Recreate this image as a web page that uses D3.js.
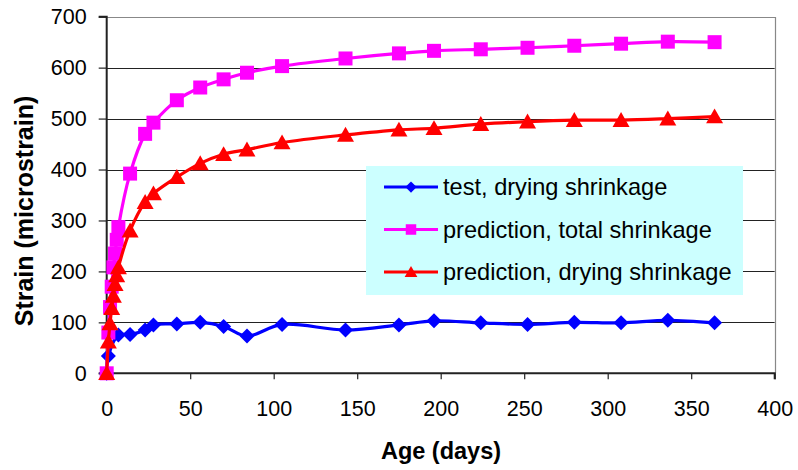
<!DOCTYPE html>
<html>
<head>
<meta charset="utf-8">
<script src="https://cdn.jsdelivr.net/npm/d3@7"></script>
<style>
  body { margin: 0; background: #fff; }
  svg { display: block; font-family: "Liberation Sans", Arial, sans-serif; }
</style>
</head>
<body>
<svg></svg>
<script>
// ages in days
var testDays = [0, 1, 7, 14, 23, 28, 42, 56, 70, 84, 105, 143, 175, 196, 224, 252, 280, 308, 336, 364];
var testDrying = [0, 34, 75, 76, 85, 95, 97, 100, 92, 73, 96, 85, 95, 103, 99, 96, 100, 99, 104, 99];

var predDays = [0, 1, 2, 3, 4, 5, 6, 7, 14, 23, 28, 42, 56, 70, 84, 105, 143, 175, 196, 224, 252, 280, 308, 336, 364];
var predTotal = [0, 80, 130, 170, 208, 235, 262, 287, 392, 470, 492, 536, 561, 577, 590, 603, 618, 628, 633, 636, 639, 643, 647, 651, 650];
var predDrying = [0, 62, 98, 128, 152, 175, 192, 208, 280, 336, 353, 385, 412, 430, 439, 453, 468, 478, 481, 489, 494, 497, 497, 500, 504];

var seriesNames = ["test, drying shrinkage", "prediction, total shrinkage", "prediction, drying shrinkage"];
var xTicks = [0, 50, 100, 150, 200, 250, 300, 350, 400];
var yTicks = [0, 100, 200, 300, 400, 500, 600, 700];

var width = 798, height = 470;
var svg = d3.select("svg").attr("width", width).attr("height", height);

var x = d3.scaleLinear().domain([0, 400]).range([106.7, 774.7]);
var y = d3.scaleLinear().domain([0, 700]).range([373.3, 16.7]);

// marker shapes
function diamond(r) { return "M0," + (-r) + "L" + r + ",0L0," + r + "L" + (-r) + ",0Z"; }
function square(r) { return "M" + (-r) + "," + (-r) + "H" + r + "V" + r + "H" + (-r) + "Z"; }
function triangle(r) { return "M0," + (-r * 0.95) + "L" + r + "," + (r * 0.8) + "L" + (-r) + "," + (r * 0.8) + "Z"; }

var series = [
  { name: seriesNames[0], days: testDays, vals: testDrying, color: "#0000ff", shape: diamond(7.5) },
  { name: seriesNames[1], days: predDays, vals: predTotal, color: "#ff00ff", shape: square(7) },
  { name: seriesNames[2], days: predDays, vals: predDrying, color: "#ff0000", shape: triangle(8.5) }
];

// gridlines
svg.append("g")
  .selectAll("line")
  .data(yTicks.filter(function (d) { return d > 0 && d < 700; }))
  .enter().append("line")
    .attr("x1", x(0)).attr("x2", x(400))
    .attr("y1", function (d) { return Math.round(y(d)) + 0.5; })
    .attr("y2", function (d) { return Math.round(y(d)) + 0.5; })
    .attr("stroke", "#222").attr("stroke-width", 1);

// top and right border of plot area
svg.append("path")
  .attr("d", "M" + x(0) + "," + (Math.round(y(700)) + 0.5) + "H" + (Math.round(x(400)) + 0.5) + "V" + y(0))
  .attr("fill", "none").attr("stroke", "#888").attr("stroke-width", 1.2);

// axes
var yAxis = svg.append("g")
  .attr("transform", "translate(" + x(0) + ",0)")
  .call(d3.axisLeft(y).tickValues(yTicks).tickSize(8).tickPadding(12).tickFormat(d3.format("d")));
var xAxis = svg.append("g")
  .attr("transform", "translate(0," + y(0) + ")")
  .call(d3.axisBottom(x).tickValues(xTicks).tickSize(6).tickPadding(21).tickFormat(d3.format("d")));

[xAxis, yAxis].forEach(function (a) {
  a.select(".domain").attr("stroke", "#222").attr("stroke-width", 2);
  a.selectAll(".tick line").attr("stroke", "#222").attr("stroke-width", 1.2);
  a.selectAll(".tick text").attr("font-size", 21.5).attr("fill", "#000")
    .attr("font-family", "Liberation Sans, Arial, sans-serif");
});
yAxis.select(".domain").attr("d", "M-8," + y(700) + "H0V" + y(0) + "H-8");
xAxis.select(".domain").attr("d", "M" + x(0) + ",0H" + x(400) + "V6");

// axis titles
svg.append("text")
  .attr("transform", "translate(33,211) rotate(-90)")
  .attr("text-anchor", "middle")
  .attr("font-size", 25).attr("font-weight", "bold")
  .text("Strain (microstrain)");
svg.append("text")
  .attr("x", 441).attr("y", 459)
  .attr("text-anchor", "middle")
  .attr("font-size", 23.5).attr("font-weight", "bold")
  .text("Age (days)");

// legend
var legend = svg.append("g").attr("transform", "translate(366,166)");
legend.append("rect").attr("width", 377).attr("height", 129).attr("fill", "#ccffff");
var item = legend.selectAll(".item")
  .data(series)
  .enter().append("g")
    .attr("transform", function (d, i) { return "translate(0," + (21 + i * 42.5) + ")"; });
item.append("line")
  .attr("x1", 18).attr("x2", 72)
  .attr("stroke", function (d) { return d.color; }).attr("stroke-width", 3);
item.append("path")
  .attr("transform", "translate(45,0) scale(0.75)")
  .attr("d", function (d) { return d.shape; })
  .attr("fill", function (d) { return d.color; });
item.append("text")
  .attr("x", 77).attr("dy", "0.35em")
  .attr("font-size", 23.6)
  .text(function (d) { return d.name; });

// series lines and markers
var line = d3.line()
  .x(function (d) { return x(d[0]); })
  .y(function (d) { return y(d[1]); })
  .curve(d3.curveCatmullRom.alpha(0.5));

series.forEach(function (s) {
  var pts = s.days.map(function (d, i) { return [d, s.vals[i]]; });
  var g = svg.append("g");
  g.append("path")
    .attr("d", line(pts))
    .attr("fill", "none")
    .attr("stroke", s.color)
    .attr("stroke-width", 3.2);
  g.selectAll("path.m")
    .data(pts)
    .enter().append("path")
      .attr("class", "m")
      .attr("transform", function (d) { return "translate(" + x(d[0]) + "," + y(d[1]) + ")"; })
      .attr("d", s.shape)
      .attr("fill", s.color);
});
</script>
</body>
</html>
